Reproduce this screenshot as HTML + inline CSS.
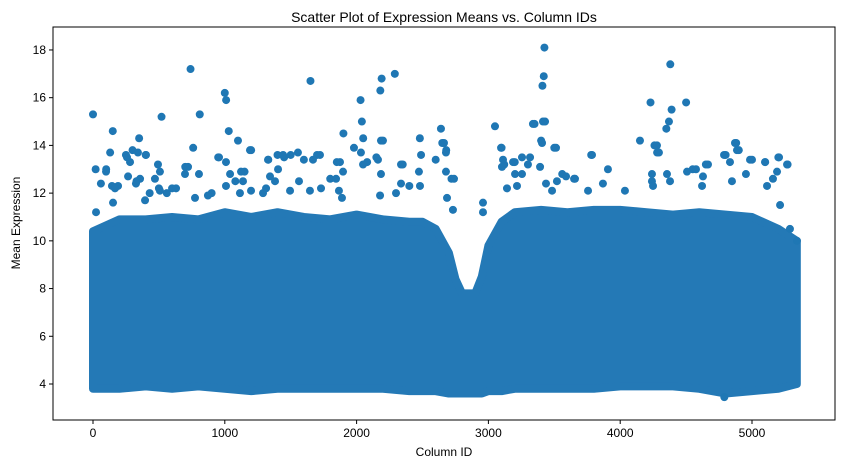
<!DOCTYPE html>
<html><head><meta charset="utf-8"><style>
html,body{margin:0;padding:0;background:#fff;}
svg{display:block;font-family:"Liberation Sans","DejaVu Sans",sans-serif;}
</style></head><body>
<svg id="chart" width="842" height="468" viewBox="0 0 842 468">
<text x="444" y="22" text-anchor="middle" font-size="14">Scatter Plot of Expression Means vs. Column IDs</text>
<g id="band"></g>
<g id="pts"></g>
<rect x="53" y="27" width="782" height="393" fill="none" stroke="#000" stroke-width="1"/>
<g id="xt"></g>
<g id="yt"></g>
<text x="444" y="456" text-anchor="middle" font-size="12">Column ID</text>
<text transform="translate(20,223) rotate(-90)" text-anchor="middle" font-size="12">Mean Expression</text>
</svg>
<script>
const binStarts=[0,200,400,600,800,1000,1200,1400,1600,1800,2000,2200,2400,2500,2600,2700,2750,2800,2900,2950,3000,3100,3200,3400,3600,3800,4000,4200,4400,4600,4800,5000,5200,5340];
const binUpper=[10.4,10.9,10.9,11,10.9,11.2,11,11.2,11,10.9,11.1,10.9,10.8,10.8,10.5,9.5,8.4,7.8,7.8,8.5,9.8,10.8,11.2,11.3,11.2,11.3,11.3,11.2,11.1,11.2,11.1,11,10.5,10.0];
const binLower=[3.8,3.8,3.9,3.8,3.9,3.8,3.7,3.8,3.8,3.8,3.8,3.8,3.7,3.7,3.7,3.6,3.6,3.6,3.6,3.6,3.7,3.7,3.8,3.8,3.8,3.8,3.9,3.9,3.9,3.8,3.6,3.7,3.8,4.0];
const outX=[0,20,60,100,130,150,190,250,300,330,350,400,430,500,520,560,600,700,740,760,810,900,950,1000,1010,1030,1080,1100,1150,1200,1290,1330,1400,1450,1500,1600,1650,1700,1800,1850,1900,1980,2030,2040,2050,2080,2150,2180,2190,2200,2290,2350,2400,2480,2600,2640,2650,2680,2720,3050,3100,3120,3200,3300,3350,3400,3410,3420,3425,3430,3500,3560,3650,3780,4150,4230,4260,4280,4350,4370,4380,4390,4500,4550,4650,4800,4880,4900,5000,5100,5200,5270,4790,
99,144,167,152,23,258,281,341,402,266,357,326,493,508,470,508,395,630,721,698,804,774,872,956,1009,1040,1009,1123,1138,1199,1115,1191,1328,1442,1404,1343,1381,1313,1555,1669,1722,1563,1495,1646,1730,1874,1897,1844,1866,1889,2033,2049,2162,2185,2185,2178,2337,2337,2299,2473,2481,2489,
2663,2678,2678,2739,2686,2731,2959,2959,3096,3111,3187,3103,3255,3316,3202,3255,3141,3217,3392,3338,3414,3407,3513,3437,3520,3589,3657,3483,3786,3756,3869,3907,4036,4279,4294,4241,4241,4249,4355,4378,4507,4575,4666,4628,4621,4788,4871,4886,4833,4985,4954,4848,5099,5205,5266,5190,5159,5114,5213,5288,5341];
const outY=[15.3,13,12.4,13,13.7,14.6,12.3,13.6,13.8,12.5,14.3,13.6,12,12.2,15.2,12,12.2,13.1,17.2,13.9,15.3,12,13.5,16.2,15.9,14.6,12.5,14.2,12.9,13.8,12,13.4,13.6,13.5,13.6,13.4,16.7,13.6,12.6,13.3,14.5,13.9,15.9,15,14.3,13.3,13.5,16.3,16.8,14.2,17,13.2,12.3,14.3,13.4,14.7,14.1,13.8,12.6,14.8,13.9,13.2,13.3,13.2,14.9,14.2,16.5,16.9,18.1,15,13.9,12.8,12.6,13.6,14.2,15.8,14,13.7,14.7,15,17.4,15.5,15.8,13,13.2,13.6,14.1,13.8,13.4,13.3,13.5,13.2,3.45,
12.9,12.3,12.2,11.6,11.2,13.5,13.3,13.7,13.6,12.7,12.6,12.4,13.2,12.9,12.6,12.1,11.7,12.2,13.1,12.8,12.8,11.8,11.9,13.5,13.3,12.8,12.3,12.9,12.5,12.1,12.0,13.8,13.4,13.6,13.0,12.7,12.5,12.2,13.7,13.4,13.6,12.5,12.1,12.1,12.2,13.3,12.9,12.6,12.1,11.8,13.7,13.2,13.4,12.8,14.2,11.9,13.2,12.4,12.0,12.9,12.3,13.6,
14.1,13.7,12.9,12.6,11.8,11.3,11.6,11.2,13.9,13.4,13.3,13.1,13.5,13.5,12.8,12.8,12.2,12.3,13.1,14.9,15.0,14.1,13.9,12.4,12.5,12.7,12.6,12.1,13.6,12.1,12.4,13.0,12.1,14.0,13.7,12.8,12.5,12.3,12.8,12.5,12.9,13.0,13.2,12.7,12.3,13.6,14.1,13.8,13.3,13.4,12.8,12.5,13.3,13.5,13.2,12.9,12.6,12.3,11.5,10.5,10.0];
const xTicks=[0,1000,2000,3000,4000,5000];
const yTicks=[4,6,8,10,12,14,16,18];
const NS='http://www.w3.org/2000/svg';
const X=v=>93+v*0.1318;
const Y=v=>384-(v-4)*23.86;
const col='#1f77b4';
let d='M'+X(binStarts[0])+','+Y(binUpper[0]);
for(let i=1;i<binStarts.length;i++) d+=' L'+X(binStarts[i])+','+Y(binUpper[i]);
for(let i=binStarts.length-1;i>=0;i--) d+=' L'+X(binStarts[i])+','+Y(binLower[i]);
d+='Z';
const band=document.createElementNS(NS,'path');
band.setAttribute('d',d);band.setAttribute('fill','#2479b6');band.setAttribute('stroke','#2479b6');band.setAttribute('stroke-width','8');band.setAttribute('stroke-linejoin','round');


document.getElementById('band').appendChild(band);
const pg=document.getElementById('pts');
for(let i=0;i<outX.length;i++){
 const c=document.createElementNS(NS,'circle');
 c.setAttribute('cx',X(outX[i]));c.setAttribute('cy',Y(outY[i]));c.setAttribute('r',4);c.setAttribute('fill',col);
 
 
 pg.appendChild(c);
}
const xg=document.getElementById('xt');
xTicks.forEach(t=>{
 const l=document.createElementNS(NS,'line');
 l.setAttribute('x1',X(t));l.setAttribute('x2',X(t));l.setAttribute('y1',420);l.setAttribute('y2',424);l.setAttribute('stroke','#000');
 
 
 xg.appendChild(l);
 const tx=document.createElementNS(NS,'text');
 tx.setAttribute('x',X(t));tx.setAttribute('y',437);tx.setAttribute('text-anchor','middle');tx.setAttribute('font-size','12');tx.textContent=t;
 
 
 xg.appendChild(tx);
});
const yg=document.getElementById('yt');
yTicks.forEach(t=>{
 const l=document.createElementNS(NS,'line');
 l.setAttribute('x1',49);l.setAttribute('x2',53);l.setAttribute('y1',Y(t));l.setAttribute('y2',Y(t));l.setAttribute('stroke','#000');
 
 
 yg.appendChild(l);
 const tx=document.createElementNS(NS,'text');
 tx.setAttribute('x',46);tx.setAttribute('y',Y(t)+4);tx.setAttribute('text-anchor','end');tx.setAttribute('font-size','12');tx.textContent=t;
 
 
 yg.appendChild(tx);
});
</script>
</body></html>
